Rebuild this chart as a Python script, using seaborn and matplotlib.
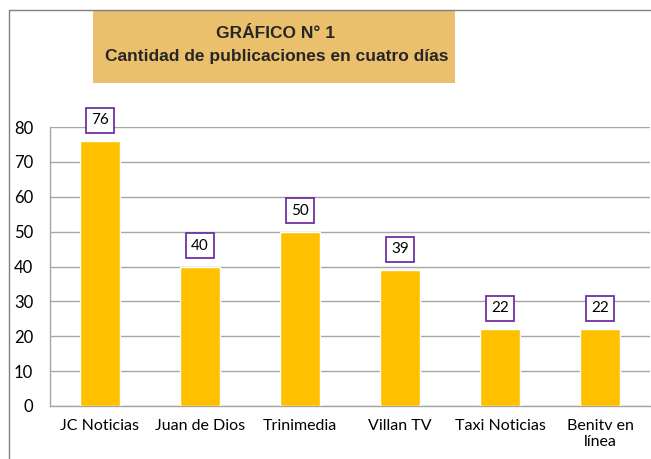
import numpy as np
import pandas as pd
import matplotlib
matplotlib.use("Agg")
import matplotlib.pyplot as plt
from matplotlib.lines import Line2D
from matplotlib.patches import Rectangle
import seaborn as sns

# Datos del gráfico
medios = ["JC Noticias", "Juan de Dios", "Trinimedia", "Villan TV", "Taxi Noticias", "Benitv en\nlínea"]
publicaciones = [76, 40, 50, 39, 22, 22]

df = pd.DataFrame({"medio": medios, "publicaciones": publicaciones})

sns.set_style("white")
plt.rcParams["font.family"] = ["Lato", "DejaVu Sans"]

W, H = 651, 459
fig = plt.figure(figsize=(W / 100, H / 100), dpi=100)

# plot area in pixel coords
left, right, top, bottom = 50, 650, 127, 406
ax = fig.add_axes([left / W, 1 - bottom / H, (right - left) / W, (bottom - top) / H])

sns.barplot(data=df, x="medio", y="publicaciones", color="#FFC000", width=0.4,
            saturation=1, ax=ax, zorder=3)

ax.set_ylim(0, 80)
ax.set_xlim(-0.5, 5.5)
ax.set_yticks(range(0, 81, 10))
ax.yaxis.grid(True, color="#A6A6A6", linewidth=1, zorder=0)
ax.set_axisbelow(True)
ax.set_xlabel("")
ax.set_ylabel("")
for s in ["top", "right"]:
    ax.spines[s].set_visible(False)
for s in ["left", "bottom"]:
    ax.spines[s].set_color("#A6A6A6")
    ax.spines[s].set_linewidth(1)
ax.tick_params(axis="both", length=0, colors="#000000")
ax.tick_params(axis="y", pad=12, labelsize=12)
ax.tick_params(axis="x", pad=9, labelsize=11.5)

for i, v in enumerate(publicaciones):
    ax.annotate(str(v), xy=(i, v), xytext=(0, 15), textcoords="offset points",
                ha="center", va="center", fontsize=11, color="#000000",
                bbox=dict(boxstyle="square,pad=0.36", fc="white", ec="#7030A0", lw=1.3),
                annotation_clip=False, zorder=5)

# title box
fig.add_artist(Rectangle((93 / W, 1 - 83 / H), (455 - 93) / W, (83 - 11) / H,
                         transform=fig.transFigure, facecolor="#EBC06C", edgecolor="none"))
title_font = ["Liberation Sans", "DejaVu Sans"]
fig.text(276 / W, 1 - 33 / H, "GRÁFICO N° 1", ha="center", va="center",
         fontsize=12.5, fontweight="bold", color="#262626", family=title_font)
fig.text(277 / W, 1 - 56 / H, "Cantidad de publicaciones en cuatro días", ha="center", va="center",
         fontsize=12.5, fontweight="bold", color="#262626", family=title_font)

# chart frame (left and top edges)
fig.add_artist(Line2D([8.5 / W, 8.5 / W], [0, 1 - 10 / H], transform=fig.transFigure,
                      color="#808080", lw=1))
fig.add_artist(Line2D([8.5 / W, 1], [1 - 10 / H, 1 - 10 / H], transform=fig.transFigure,
                      color="#808080", lw=1))

fig.savefig("out.png", dpi=100)
